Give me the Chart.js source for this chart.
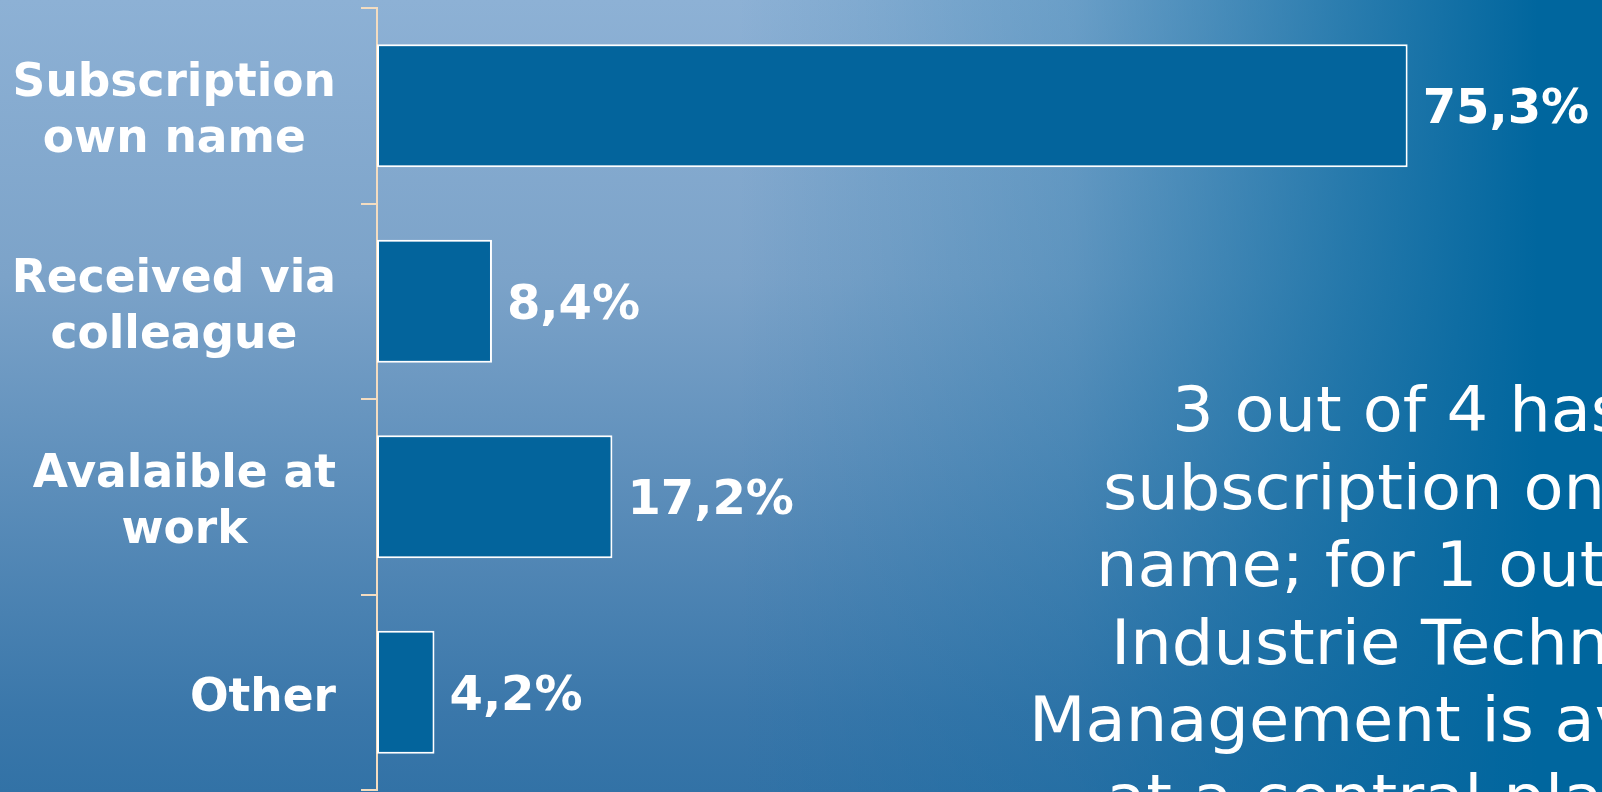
<!DOCTYPE html>
<html>
<head>
<meta charset="utf-8">
<title>Subscription</title>
<script src="https://cdn.jsdelivr.net/npm/chart.js@4/dist/chart.umd.min.js"></script>
<style>
html, body { margin: 0; padding: 0; overflow: hidden; }
body {
	width: 1602px; height: 792px;
	/* horizontal dark blue over a vertical light-to-mid blue */
	background:
		linear-gradient(to right, rgba(0,102,158,0) 46%, rgba(0,102,158,0.25) 67%, rgba(0,102,158,0.7) 84%, rgba(0,102,158,1) 96%),
		linear-gradient(to bottom, #8db1d5 0%, #7ca3c9 35%, #3a77aa 90%, #3272a6 100%);
}
canvas { display: block; }
</style>
</head>
<body>
<canvas id="barChart" width="1602" height="792"></canvas>
<script>
// categories (each inner array = lines of the label)
var categories = [
	["Subscription", "own name"],
	["Received via", "colleague"],
	["Avalaible at", "work"],
	["Other"]
];
// share in percent
var shares = [75.3, 8.4, 17.2, 4.2];
// the note on the right, one entry per line
var noteLines = [
	"3 out of 4 has a",
	"subscription on own",
	"name; for 1 out of 5",
	"Industrie Techniek &",
	"Management is available",
	"at a central place"
];

window.onload = function(){

	var ctx = document.getElementById('barChart').getContext('2d');

	//draws the category names, right aligned as a block with centred lines
	var categoryLabels = {
		id: 'categoryLabels',
		afterDraw: function(chart){
			var c = chart.ctx;
			var yScale = chart.scales.y;
			c.save();
			c.font = 'bold 45.5px "DejaVu Sans"';
			c.fillStyle = '#ffffff';
			c.textAlign = 'center';
			c.textBaseline = 'alphabetic';
			for (var i = 0; i < categories.length; i++){
				var lines = categories[i];
				var widest = 0;
				for (var j = 0; j < lines.length; j++){
					widest = Math.max(widest, c.measureText(lines[j]).width);
				}
				var cx = 336 - widest / 2;
				var yc = yScale.getPixelForValue(i);
				var first = yc + 18.5 - (lines.length - 1) * 28;
				for (var j = 0; j < lines.length; j++){
					c.fillText(lines[j], cx, first + j * 56);
				}
			}
			c.restore();
		}
	};

	//value labels at the end of each bar
	var valueLabels = {
		id: 'valueLabels',
		afterDatasetsDraw: function(chart){
			var c = chart.ctx;
			var bars = chart.getDatasetMeta(0).data;
			c.save();
			c.font = 'bold 48px "DejaVu Sans"';
			c.fillStyle = '#ffffff';
			c.textAlign = 'left';
			c.textBaseline = 'alphabetic';
			for (var i = 0; i < bars.length; i++){
				var txt = shares[i].toFixed(1).replace('.', ',') + '%';
				c.fillText(txt, bars[i].x + 15, bars[i].y + 17.5);
			}
			c.restore();
		}
	};

	//the note text on the right (runs off the edge like the slide)
	var noteText = {
		id: 'noteText',
		afterDraw: function(chart){
			var c = chart.ctx;
			var starts = [1172, 1103, 1096, 1111, 1029, 1106];
			c.save();
			c.font = '63px "DejaVu Sans"';
			c.fillStyle = '#ffffff';
			c.textAlign = 'left';
			c.textBaseline = 'alphabetic';
			for (var i = 0; i < noteLines.length; i++){
				c.save();
				c.translate(starts[i], 431 + i * 77.5);
				c.scale(1.04, 1);
				c.fillText(noteLines[i], 0, 0);
				c.restore();
			}
			c.restore();
		}
	};

	var chart = new Chart(ctx, {
		type: 'bar',
		data: {
			labels: categories,
			datasets: [{
				data: shares,
				backgroundColor: '#03649c',
				borderColor: '#ffffff',
				borderWidth: 2,
				borderSkipped: false,
				categoryPercentage: 0.63,
				barPercentage: 1
			}]
		},
		options: {
			indexAxis: 'y',
			responsive: false,
			animation: false,
			layout: { padding: { top: 8, bottom: 2, left: 0, right: 0 } },
			plugins: {
				legend: { display: false },
				tooltip: { enabled: false }
			},
			scales: {
				x: { display: false, min: 0, max: 89.5 },
				y: {
					ticks: { display: false },
					grid: {
						drawOnChartArea: false,
						drawTicks: true,
						tickLength: 16,
						color: '#f3dcc0',
						lineWidth: 2
					},
					border: { display: true, color: '#f3dcc0', width: 2 },
					afterFit: function(scale){ scale.width = 377; }
				}
			}
		},
		plugins: [categoryLabels, valueLabels, noteText]
	});
};
</script>
</body>
</html>
